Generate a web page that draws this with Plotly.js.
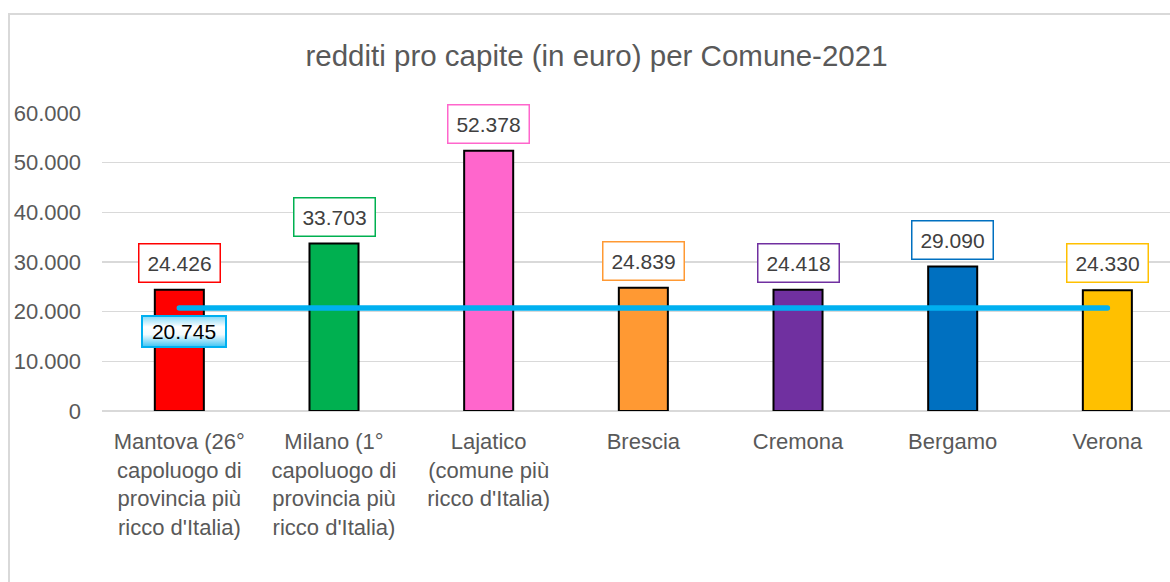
<!DOCTYPE html>
<html>
<head>
<meta charset="utf-8">
<script src="https://cdn.plot.ly/plotly-3.0.1.min.js"></script>
<style>
  html, body { margin: 0; padding: 0; background: #ffffff; }
  #wrap { position: relative; width: 1170px; height: 582px; overflow: hidden; }
  #bt { position: absolute; left: 8px; top: 13px; width: 1170px; height: 2px; background: #D9D9D9; }
  #bl { position: absolute; left: 8px; top: 13px; width: 2px; height: 580px; background: #D9D9D9; }
  #chart { position: absolute; left: 0; top: 0; width: 1170px; height: 582px; }
</style>
</head>
<body>
<div id="wrap">
  <div id="bt"></div>
  <div id="bl"></div>
  <div id="chart"></div>
</div>
<script>
// ---- data ----
const categories = [
  "Mantova (26°<br>capoluogo di<br>provincia più<br>ricco d'Italia)",
  "Milano (1°<br>capoluogo di<br>provincia più<br>ricco d'Italia)",
  "Lajatico<br>(comune più<br>ricco d'Italia)",
  "Brescia",
  "Cremona",
  "Bergamo",
  "Verona"
];
const incomes = [24426, 33703, 52378, 24839, 24418, 29090, 24330];
const italyAverage = 20745;
const barColors = ["#FF0000", "#00B050", "#FF66CC", "#FF9933", "#7030A0", "#0070C0", "#FFC000"];
const yTickValues = [0, 10000, 20000, 30000, 40000, 50000, 60000];

function fmt(v) {
  return String(v).replace(/\B(?=(\d{3})+(?!\d))/g, ".");
}

const fontFam = "'Liberation Sans', Arial, sans-serif";

const barTrace = {
  type: "bar",
  x: categories,
  y: incomes,
  width: 0.317,
  marker: { color: barColors, line: { color: "#000000", width: 2 } },
  hoverinfo: "skip"
};

const avgTrace = {
  type: "scatter",
  mode: "lines",
  x: categories,
  y: categories.map(() => italyAverage),
  line: { color: "#00B0F0", width: 5.5 },
  hoverinfo: "skip"
};

const annotations = incomes.map((v, i) => ({
  x: categories[i],
  y: v,
  xref: "x",
  yref: "y",
  text: fmt(v),
  showarrow: false,
  yanchor: "bottom",
  yshift: 7,
  font: { family: fontFam, size: 21, color: "#404040" },
  bgcolor: "#FFFFFF",
  bordercolor: barColors[i],
  borderwidth: 1.5,
  borderpad: 7,
  width: 66
}));

annotations.push({
  x: categories[0],
  y: italyAverage,
  xref: "x",
  yref: "y",
  text: fmt(italyAverage),
  showarrow: false,
  yanchor: "top",
  yshift: -7,
  xshift: 5,
  font: { family: fontFam, size: 21, color: "#000000" },
  bgcolor: "#BDEBFA",
  bordercolor: "#00B0F0",
  borderwidth: 2,
  borderpad: 3,
  width: 76
});

const layout = {
  width: 1170,
  height: 582,
  margin: { l: 102, r: 0, t: 113, b: 171, pad: 0 },
  paper_bgcolor: "rgba(0,0,0,0)",
  plot_bgcolor: "rgba(0,0,0,0)",
  showlegend: false,
  separators: ",.",
  title: {
    text: "redditi pro capite (in euro) per Comune-2021",
    font: { family: fontFam, size: 29.5, color: "#595959" },
    xref: "container",
    yref: "container",
    x: 596.5 / 1170,
    y: 1 - 56 / 582,
    xanchor: "center",
    yanchor: "middle"
  },
  xaxis: {
    type: "category",
    range: [-0.5, 6.405],
    showgrid: false,
    showline: false,
    zeroline: false,
    ticks: "",
    ticklabelstandoff: 15,
    tickfont: { family: fontFam, size: 22, color: "#595959" },
    fixedrange: true
  },
  yaxis: {
    range: [0, 60000],
    tickvals: yTickValues,
    ticktext: yTickValues.map(fmt),
    showgrid: true,
    gridcolor: "#D9D9D9",
    gridwidth: 1.5,
    zeroline: true,
    zerolinecolor: "#D9D9D9",
    zerolinewidth: 1.5,
    showline: false,
    ticks: "",
    ticklabelstandoff: 20,
    tickfont: { family: fontFam, size: 22, color: "#595959" },
    fixedrange: true
  },
  annotations: annotations
};

Plotly.newPlot("chart", [barTrace, avgTrace], layout, { displayModeBar: false, staticPlot: true }).then(function (gd) {
  // round caps on the average line
  gd.querySelectorAll(".scatterlayer .js-line").forEach(function (p) {
    p.style.strokeLinecap = "round";
  });
  // gradient fill for the average label
  const svg = gd.querySelector("svg.main-svg");
  const ns = "http://www.w3.org/2000/svg";
  let defs = svg.querySelector("defs");
  if (!defs) { defs = document.createElementNS(ns, "defs"); svg.insertBefore(defs, svg.firstChild); }
  const grad = document.createElementNS(ns, "linearGradient");
  grad.setAttribute("id", "avgGrad");
  grad.setAttribute("x1", "0"); grad.setAttribute("y1", "0");
  grad.setAttribute("x2", "0"); grad.setAttribute("y2", "1");
  [["0%", "#7FD8F8"], ["35%", "#FFFFFF"], ["60%", "#F2FBFE"], ["100%", "#3CC3F3"]].forEach(function (s) {
    const st = document.createElementNS(ns, "stop");
    st.setAttribute("offset", s[0]);
    st.setAttribute("stop-color", s[1]);
    grad.appendChild(st);
  });
  defs.appendChild(grad);
  const anns = gd.querySelectorAll(".annotation");
  const last = anns[anns.length - 1];
  if (last) {
    const bg = last.querySelector("rect.bg");
    if (bg) { bg.style.fill = "url(#avgGrad)"; }
  }
});
</script>
</body>
</html>
